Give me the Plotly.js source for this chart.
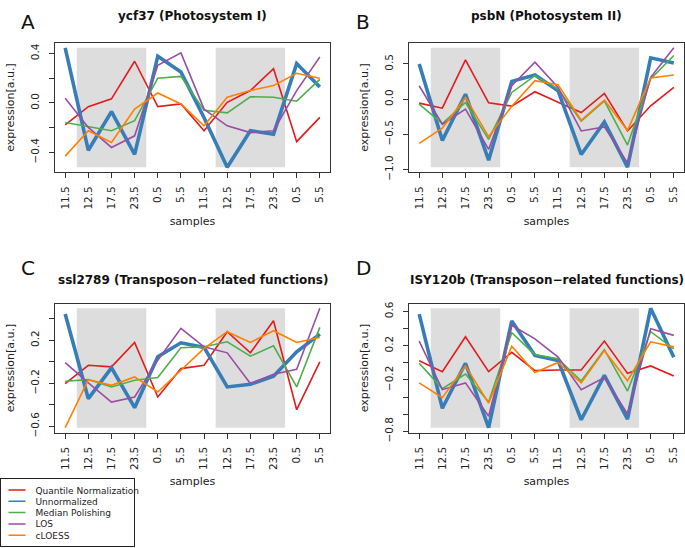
<!DOCTYPE html>
<html><head><meta charset="utf-8">
<script src="https://cdn.plot.ly/plotly-3.0.1.min.js"></script>
<style>html,body{margin:0;padding:0;background:#fff}</style>
</head><body>
<div id="chart" style="width:685px;height:548px"></div>
<script>
const sampleLabels = ["11.5","12.5","17.5","23.5","0.5","5.5","11.5","12.5","17.5","23.5","0.5","5.5"];
const methods = ["Quantile Normalization","Unnormalized","Median Polishing","LOS","cLOESS"];
const methodColors = ["#E41A1C","#377EB8","#4DAF4A","#984EA3","#FF7F00"];
const shadedSampleRanges = [[1,3],[7,9]];

// Panel A: ycf37 (Photosystem I)
const ycf37_quantile = [-0.177,-0.03,0.033,0.337,-0.03,-0.008,-0.225,0.005,0.1,0.277,-0.313,-0.117];
const ycf37_unnorm   = [0.446,-0.383,-0.07,-0.416,0.378,0.25,-0.12,-0.52,-0.225,-0.253,0.318,0.128];
const ycf37_median   = [-0.158,-0.193,-0.225,-0.144,0.2,0.215,-0.06,-0.08,0.05,0.046,0.014,0.19];
const ycf37_los      = [0.038,-0.198,-0.36,-0.266,0.304,0.405,-0.05,-0.185,-0.24,-0.225,0.1,0.372];
const ycf37_cloess   = [-0.43,-0.225,-0.32,-0.05,0.08,-0.008,-0.185,0.046,0.1,0.14,0.24,0.2];

// Panel B: psbN (Photosystem II)
const psbN_quantile = [-0.057,-0.129,0.557,-0.052,-0.1,0.105,-0.043,-0.19,0.081,-0.452,-0.095,0.167];
const psbN_unnorm   = [0.5,-0.586,0.07,-0.867,0.252,0.343,0.12,-0.786,-0.324,-0.967,0.586,0.514];
const psbN_median   = [-0.071,-0.348,-0.048,-0.571,0.095,0.333,0.143,-0.31,-0.024,-0.652,0.286,0.619];
const psbN_los      = [0.19,-0.357,-0.143,-0.714,0.19,0.524,0.167,-0.452,-0.395,-0.905,0.31,0.729];
const psbN_cloess   = [-0.629,-0.414,0.024,-0.533,-0.1,0.262,0.205,-0.3,-0.014,-0.443,0.3,0.343];

// Panel C: ssl2789 (Transposon-related functions)
const ssl2789_quantile = [-0.203,-0.033,-0.048,0.178,-0.327,-0.064,-0.033,0.278,0.082,0.38,-0.445,-0.002];
const ssl2789_unnorm   = [0.442,-0.343,-0.057,-0.426,0.045,0.175,0.132,-0.234,-0.209,-0.135,0.091,0.256];
const ssl2789_median   = [-0.181,-0.166,-0.234,-0.172,-0.147,0.129,0.138,0.184,0.051,0.147,-0.234,0.318];
const ssl2789_los      = [-0.008,-0.197,-0.374,-0.327,0.014,0.309,0.138,0.082,-0.203,-0.116,-0.07,0.495];
const ssl2789_cloess   = [-0.612,-0.166,-0.219,-0.141,-0.281,-0.079,0.123,0.278,0.178,0.287,0.178,0.225];

// Panel D: ISY120b (Transposon-related functions)
const isy120b_quantile = [0.023,-0.103,0.304,-0.103,0.122,-0.091,-0.083,-0.083,0.253,-0.123,-0.036,-0.155];
const isy120b_unnorm   = [0.568,-0.53,-0.005,-0.757,0.489,0.086,0.027,-0.664,-0.147,-0.656,0.636,0.066];
const isy120b_median   = [-0.005,-0.301,-0.131,-0.458,0.351,0.095,0.048,-0.213,0.154,-0.329,0.363,0.162];
const isy120b_los      = [0.253,-0.313,-0.234,-0.624,0.438,0.28,0.067,-0.313,-0.171,-0.597,0.398,0.32];
const isy120b_cloess   = [-0.234,-0.406,-0.035,-0.47,0.194,-0.114,0.004,-0.234,0.142,-0.209,0.245,0.186];

// Y tick values / labels
const ticksA = [-0.4,-0.2,0,0.2,0.4];      const labelsA = ["\u22120.4","","0.0","","0.4"];
const ticksB = [-1,-0.5,0,0.5];            const labelsB = ["\u22121.0","\u22120.5","0.0","0.5"];
const ticksC = [-0.6,-0.4,-0.2,0,0.2,0.4]; const labelsC = ["\u22120.6","","\u22120.2","","0.2",""];
const ticksD = [-0.8,-0.6,-0.4,-0.2,0,0.2,0.4,0.6]; const labelsD = ["\u22120.8","","","\u22120.2","","0.2","","0.6"];

const panels = [
  {letter:"A", title:"ycf37 (Photosystem I)", series:[ycf37_quantile,ycf37_unnorm,ycf37_median,ycf37_los,ycf37_cloess], tv:ticksA, tt:labelsA},
  {letter:"B", title:"psbN (Photosystem II)", series:[psbN_quantile,psbN_unnorm,psbN_median,psbN_los,psbN_cloess], tv:ticksB, tt:labelsB},
  {letter:"C", title:"ssl2789 (Transposon\u2212related functions)", series:[ssl2789_quantile,ssl2789_unnorm,ssl2789_median,ssl2789_los,ssl2789_cloess], tv:ticksC, tt:labelsC},
  {letter:"D", title:"ISY120b (Transposon\u2212related functions)", series:[isy120b_quantile,isy120b_unnorm,isy120b_median,isy120b_los,isy120b_cloess], tv:ticksD, tt:labelsD}
];

const W = 685, H = 548;
const xDomains = [[55/W,330/W],[409/W,684/W],[55/W,330/W],[409/W,684/W]];
const yDomains = [[1-172/H,1-43/H],[1-172/H,1-43/H],[1-432.5/H,1-303.5/H],[1-432.5/H,1-303.5/H]];
const titleY = [16, 16, 280, 280];
const letterY = [22, 22, 268, 268];
const letterX = [19, 354, 19, 354];

const FONT = "DejaVu Sans, Arial, sans-serif";
const xIdx = sampleLabels.map((_, i) => i);

const traces = [];
const shapes = [];
const annotations = [];
const layout = {
  width: W, height: H,
  margin: {l:0, r:0, t:0, b:0, autoexpand:false},
  paper_bgcolor: "#ffffff", plot_bgcolor: "#ffffff",
  font: {family: FONT, color: "#222"},
  showlegend: true,
  legend: {x:0, y:0, xanchor:"left", yanchor:"bottom", bgcolor:"#fff", bordercolor:"#222", borderwidth:1,
           font:{size:9, family:FONT, color:"#222"}, tracegroupgap:0},
  shapes: shapes, annotations: annotations
};

panels.forEach((p, k) => {
  const ax = k === 0 ? "" : String(k+1);
  const all = p.series.flat();
  const lo = Math.min(...all), hi = Math.max(...all);
  const pad = 0.04*(hi-lo);
  p.series.forEach((s, m) => {
    traces.push({
      type:"scatter", mode:"lines", x:xIdx, y:s, xaxis:"x"+ax, yaxis:"y"+ax,
      name: methods[m], legendgroup: methods[m], showlegend: k === 0,
      line:{color:methodColors[m], width: m === 1 ? 3.6 : 1.6}
    });
  });
  shadedSampleRanges.forEach(r => {
    shapes.push({type:"rect", xref:"x"+ax, yref:"y"+ax, x0:r[0]-0.5, x1:r[1]+0.5, y0:lo, y1:hi,
      fillcolor:"#DDDDDD", line:{width:0}, layer:"below"});
  });
  layout["xaxis"+ax] = {
    domain:xDomains[k], anchor:"y"+ax, range:[-0.44, 11.44],
    tickmode:"array", tickvals:xIdx, ticktext:sampleLabels, tickangle:-90,
    ticks:"outside", ticklen:5, tickcolor:"#333", tickwidth:1,
    showline:true, mirror:true, linecolor:"#333", linewidth:1,
    showgrid:false, zeroline:false, ticklabelstandoff:4,
    tickfont:{size:10.5, family:FONT, color:"#222"},
    title:{text:"samples", font:{size:11, family:FONT, color:"#222"}, standoff:8}
  };
  layout["yaxis"+ax] = {
    domain:yDomains[k], anchor:"x"+ax, range:[lo-pad, hi+pad],
    tickmode:"array", tickvals:p.tv, ticktext:p.tt, tickangle:-90,
    ticks:"outside", ticklen:5, tickcolor:"#333", tickwidth:1,
    showline:true, mirror:true, linecolor:"#333", linewidth:1,
    showgrid:false, zeroline:false, ticklabelstandoff:6,
    tickfont:{size:10.5, family:FONT, color:"#222"},
    title:{text:"expression[a.u.]", font:{size:11, family:FONT, color:"#222"}, standoff:11}
  };
  annotations.push({xref:"paper", yref:"paper", x:(xDomains[k][0]+xDomains[k][1])/2, y:1-titleY[k]/H,
    xanchor:"center", yanchor:"middle", showarrow:false,
    text:"<b>"+p.title+"</b>", font:{size:12, family:FONT, color:"#111"}});
  annotations.push({xref:"paper", yref:"paper", x:letterX[k]/W, y:1-letterY[k]/H,
    xanchor:"left", yanchor:"middle", showarrow:false,
    text:p.letter, font:{size:20, family:FONT, color:"#111"}});
});

Plotly.newPlot("chart", traces, layout, {staticPlot:true, displayModeBar:false}).then(gd => {
  const leg = gd.querySelector(".legend");
  if (!leg) return;
  leg.setAttribute("transform", "translate(0.5,478.5)");
  const bg = leg.querySelector("rect.bg");
  if (bg) { bg.setAttribute("x",0); bg.setAttribute("y",0); bg.setAttribute("width",134); bg.setAttribute("height",68); }
  leg.querySelectorAll("g.traces").forEach((it, k) => {
    it.setAttribute("transform", "translate(0," + (11.5 + k*11.3) + ")");
    const pth = it.querySelector("path.js-line");
    if (pth) { pth.setAttribute("d", "M8,0h17"); pth.style.strokeWidth = "1.5px"; }
    const t = it.querySelector("text.legendtext");
    if (t) t.setAttribute("x", 35);
  });
});
</script>
</body></html>
